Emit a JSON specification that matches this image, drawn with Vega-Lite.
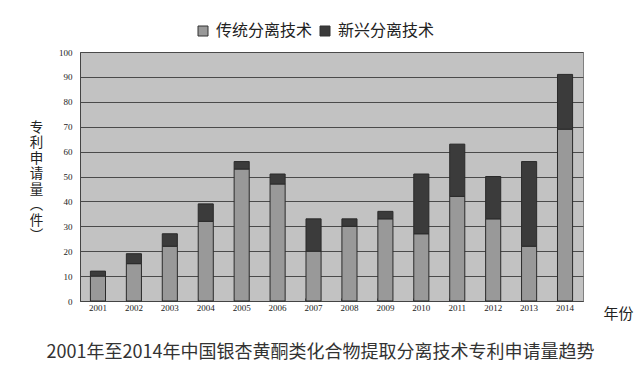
{
  "$schema": "https://vega.github.io/schema/vega-lite/v6.json",
  "autosize": "none",
  "width": 503,
  "height": 249,
  "padding": {"left": 80, "top": 52, "right": 57, "bottom": 90},
  "background": "white",
  "data": {
    "values": [
      {"year": "2001", "type": "传统分离技术", "n": 10, "o": 1},
      {"year": "2001", "type": "新兴分离技术", "n": 2, "o": 2},
      {"year": "2002", "type": "传统分离技术", "n": 15, "o": 1},
      {"year": "2002", "type": "新兴分离技术", "n": 4, "o": 2},
      {"year": "2003", "type": "传统分离技术", "n": 22, "o": 1},
      {"year": "2003", "type": "新兴分离技术", "n": 5, "o": 2},
      {"year": "2004", "type": "传统分离技术", "n": 32, "o": 1},
      {"year": "2004", "type": "新兴分离技术", "n": 7, "o": 2},
      {"year": "2005", "type": "传统分离技术", "n": 53, "o": 1},
      {"year": "2005", "type": "新兴分离技术", "n": 3, "o": 2},
      {"year": "2006", "type": "传统分离技术", "n": 47, "o": 1},
      {"year": "2006", "type": "新兴分离技术", "n": 4, "o": 2},
      {"year": "2007", "type": "传统分离技术", "n": 20, "o": 1},
      {"year": "2007", "type": "新兴分离技术", "n": 13, "o": 2},
      {"year": "2008", "type": "传统分离技术", "n": 30, "o": 1},
      {"year": "2008", "type": "新兴分离技术", "n": 3, "o": 2},
      {"year": "2009", "type": "传统分离技术", "n": 33, "o": 1},
      {"year": "2009", "type": "新兴分离技术", "n": 3, "o": 2},
      {"year": "2010", "type": "传统分离技术", "n": 27, "o": 1},
      {"year": "2010", "type": "新兴分离技术", "n": 24, "o": 2},
      {"year": "2011", "type": "传统分离技术", "n": 42, "o": 1},
      {"year": "2011", "type": "新兴分离技术", "n": 21, "o": 2},
      {"year": "2012", "type": "传统分离技术", "n": 33, "o": 1},
      {"year": "2012", "type": "新兴分离技术", "n": 17, "o": 2},
      {"year": "2013", "type": "传统分离技术", "n": 22, "o": 1},
      {"year": "2013", "type": "新兴分离技术", "n": 34, "o": 2},
      {"year": "2014", "type": "传统分离技术", "n": 69, "o": 1},
      {"year": "2014", "type": "新兴分离技术", "n": 22, "o": 2}
    ]
  },
  "title": {
    "text": "2001年至2014年中国银杏黄酮类化合物提取分离技术专利申请量趋势",
    "orient": "bottom",
    "anchor": "middle",
    "dx": -11,
    "offset": 23,
    "font": "Noto Sans CJK SC",
    "fontSize": 18,
    "fontWeight": "normal",
    "color": "#333333"
  },
  "mark": {"type": "bar", "stroke": "#2a2a2a", "strokeWidth": 1},
  "encoding": {
    "x": {
      "field": "year",
      "type": "ordinal",
      "scale": {"paddingInner": 0.58, "paddingOuter": 0.29},
      "axis": {
        "title": "年份",
        "titleX": 538,
        "titleY": 12,
        "titleAlign": "center",
        "titleBaseline": "middle",
        "titleFont": "Noto Sans CJK SC",
        "titleFontSize": 15,
        "titleFontWeight": "normal",
        "titleColor": "#222222",
        "labelAngle": 0,
        "labelFont": "Liberation Serif",
        "labelFontSize": 9,
        "labelColor": "#222222",
        "labelPadding": 5,
        "domainColor": "#444444",
        "ticks": true,
        "bandPosition": 0,
        "tickSize": -3,
        "tickColor": "#555555"
      }
    },
    "y": {
      "field": "n",
      "type": "quantitative",
      "stack": "zero",
      "scale": {"domain": [0, 100], "nice": false},
      "axis": {
        "values": [0, 10, 20, 30, 40, 50, 60, 70, 80, 90, 100],
        "title": ["专", "利", "申", "请", "量", "︵", "件", "︶"],
        "titleAngle": 0,
        "titleX": -44,
        "titleY": 68,
        "titleAlign": "center",
        "titleBaseline": "top",
        "titleFont": "Noto Sans CJK SC",
        "titleFontSize": 13.5,
        "titleLineHeight": 15.5,
        "titleFontWeight": "normal",
        "titleColor": "#222222",
        "labelFont": "Liberation Serif",
        "labelFontSize": 9,
        "labelColor": "#222222",
        "labelPadding": 8,
        "ticks": false,
        "domainColor": "#444444",
        "grid": true,
        "gridColor": "#4a4a4a",
        "gridWidth": 1
      }
    },
    "color": {
      "field": "type",
      "type": "nominal",
      "scale": {"domain": ["传统分离技术", "新兴分离技术"], "range": ["#999999", "#3b3b3b"]},
      "legend": {
        "title": null,
        "orient": "none",
        "direction": "horizontal",
        "legendX": 115,
        "legendY": -29,
        "symbolType": "square",
        "symbolSize": 100,
        "symbolStrokeColor": "#333333",
        "symbolStrokeWidth": 1,
        "labelFont": "Noto Sans CJK SC",
        "labelFontSize": 16,
        "labelColor": "#222222",
        "labelOffset": 5,
        "columnPadding": 4
      }
    },
    "order": {"field": "o", "type": "quantitative"}
  },
  "config": {
    "view": {"fill": "#c2c2c2", "stroke": "#808080"}
  }
}
